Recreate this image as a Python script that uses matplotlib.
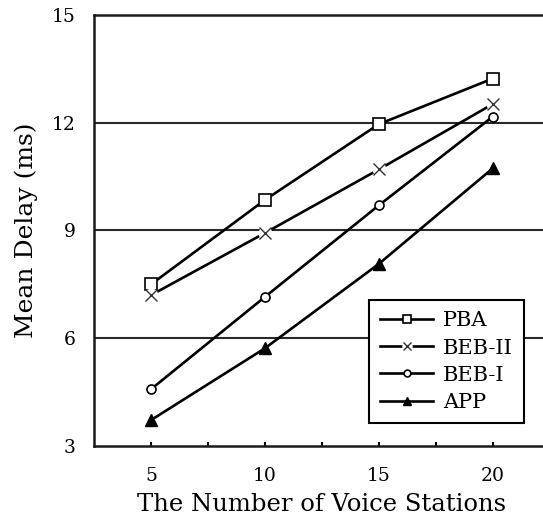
import matplotlib
matplotlib.use("Agg")
import matplotlib.pyplot as plt
from matplotlib.legend_handler import HandlerTuple

stations = [5, 10, 15, 20]
pba = [7.5, 9.85, 11.96, 13.23]
beb_ii = [7.2, 8.93, 10.70, 12.52]
beb_i = [4.58, 7.15, 9.70, 12.17]
app = [3.72, 5.72, 8.07, 10.73]

y_ticks = [3, 6, 9, 12, 15]
x_ticks = [5, 10, 15, 20]

plt.rcParams["font.family"] = ["DejaVu Serif"]

fig = plt.figure(figsize=(5.43, 5.25), dpi=100)
W, H = 543, 525
ax = fig.add_axes([94 / W, (H - 446) / H, (549.7 - 94) / W, (446 - 15) / H])

ax.set_xlim(2.5, 22.5)
ax.set_ylim(3, 15)

for y in [6, 9, 12]:
    ax.axhline(y, color="#2a2a2a", lw=1.5, zorder=1)

lw = 1.9
h_pba, = ax.plot(stations, pba, color="black", lw=lw, marker="s", ms=8,
                 mfc="white", mec="black", mew=1.2, zorder=3)
l_b2, = ax.plot(stations, beb_ii, color="black", lw=lw, zorder=3)
w_b2, = ax.plot(stations, beb_ii, ls="none", marker="o", ms=10,
                mfc="white", mec="none", zorder=4)
x_b2, = ax.plot(stations, beb_ii, ls="none", marker="x", ms=8,
                mec="#333333", mew=1.0, zorder=5)
h_b1, = ax.plot(stations, beb_i, color="black", lw=lw, marker="o", ms=6.5,
                mfc="white", mec="black", mew=1.2, zorder=3)
h_app, = ax.plot(stations, app, color="black", lw=lw, marker="^", ms=8,
                 mfc="black", mec="black", zorder=3)

for side in ["left", "bottom", "top", "right"]:
    ax.spines[side].set_linewidth(1.8)
    ax.spines[side].set_color("#1a1a1a")

ax.set_yticks(y_ticks)
ax.set_yticklabels([str(v) for v in y_ticks])
ax.tick_params(axis="y", length=0, pad=13, labelsize=13.5)

ax.set_xticks(x_ticks)
ax.set_xticklabels([str(v) for v in x_ticks])
ax.set_xticks([7.5, 12.5, 17.5], minor=True)
ax.tick_params(axis="x", which="both", direction="in", length=3, width=1.5,
               pad=15, labelsize=13.5)

ax.set_xlabel("The Number of Voice Stations", fontsize=17.5, labelpad=6)
ax.set_ylabel("Mean Delay (ms)", fontsize=18, labelpad=10)

leg = ax.legend([h_pba, (l_b2, w_b2, x_b2), h_b1, h_app],
                ["PBA", "BEB-II", "BEB-I", "APP"],
                handler_map={tuple: HandlerTuple(ndivide=1)},
                loc="upper left", bbox_to_anchor=(0.6035, 0.3387),
                borderaxespad=0, fontsize=15, handlelength=2.5,
                handletextpad=0.5, labelspacing=0.39, borderpad=0.55,
                markerscale=0.75,
                fancybox=False, framealpha=1, edgecolor="black")
leg.get_frame().set_linewidth(1.5)

fig.savefig("out.png", dpi=100)
